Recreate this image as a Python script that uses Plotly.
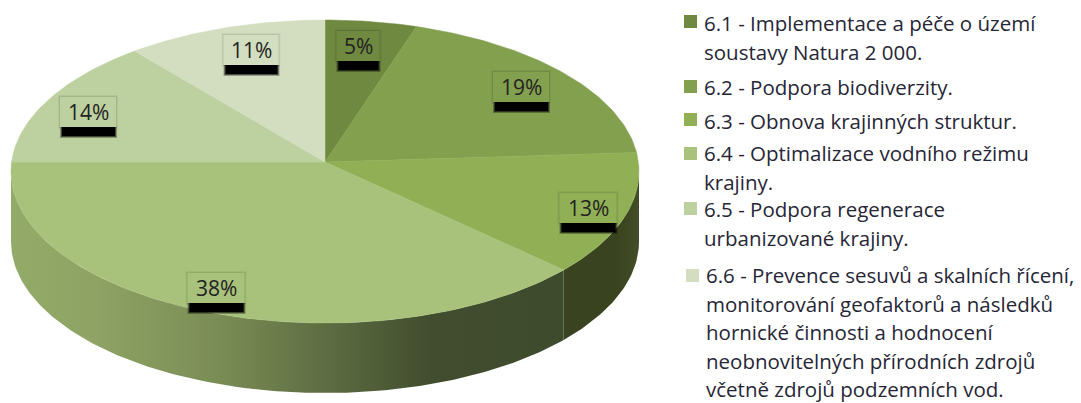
"""
Elliptical 3D-looking pie of programme shares, with boxed percent labels.
The axes run in pixels of the page so the ellipse can be squashed freely.
"""
import math
import plotly.graph_objects as go

categories = [
    "6.1 - Implementace a péče o území<br>soustavy Natura 2 000.",
    "6.2 - Podpora biodiverzity.",
    "6.3 - Obnova krajinných struktur.",
    "6.4 - Optimalizace vodního režimu<br>krajiny.",
    "6.5 - Podpora regenerace<br>urbanizované krajiny.",
    "6.6 - Prevence sesuvů a skalních řícení,<br>monitorování geofaktorů a následků<br>"
    "hornické činnosti a hodnocení<br>neobnovitelných přírodních zdrojů<br>"
    "včetně zdrojů podzemních vod.",
]
shares = [5, 19, 13, 38, 14, 11]
colors = ["#6f8a40", "#83a04e", "#91b056", "#a8c27b", "#bdd0a0", "#d3dec0"]

# layout of the pie, in page pixels
CX, CY = 325, 171.5
RX, RY = 314, 151.5
DEPTH = 70
TILT = 0.0627  # how far the hub sits behind the middle of the ellipse

label_pos = [(358, 46), (521, 87), (588, 208), (216, 288), (88, 112), (251, 50)]
label_w = [43, 56, 57, 57, 56, 55]
legend_pos = [(702, 23), (702, 87), (702, 121), (702, 153), (702, 209), (704, 275)]
swatch_y = [22, 87, 120, 154, 209, 276]
LINE_STEP = 28.5


def rim(deg, drop=0):
    # circle seen in perspective: stays an ellipse, the hub moves back
    a = math.radians(deg)
    d = 1 + TILT * math.cos(a)
    ex = math.sqrt(1 - TILT ** 2) * math.sin(a) / d
    ey = (math.cos(a) + TILT) / d
    return CX + RX * ex, CY - RY * ey + drop


def arc(start, end, drop=0):
    steps = max(2, int(abs(end - start)))
    return [rim(start + (end - start) * i / steps, drop) for i in range(steps + 1)]


def side(start, end):
    top = arc(start, end)
    bottom = arc(end, start, DEPTH)
    pts = top + bottom + top[:1]
    return [p[0] for p in pts], [p[1] for p in pts]


fig = go.Figure()

# angles where each slice starts and ends
edges = [0]
for s in shares:
    edges.append(edges[-1] + s / sum(shares) * 360)

# side walls: only the front part of the rim is visible
extreme = math.degrees(math.acos(-TILT))
xs, ys = side(extreme, edges[3])
fig.add_trace(go.Scatter(
    x=xs, y=ys, mode="lines", line=dict(width=0), fill="toself",
    fillgradient=dict(type="horizontal", colorscale=[[0, "#39431f"], [0.7, "#39431f"], [1, "#434e28"]]),
    hoverinfo="skip"))
xs, ys = side(edges[3], 360 - extreme)
fig.add_trace(go.Scatter(
    x=xs, y=ys, mode="lines", line=dict(width=0), fill="toself",
    fillgradient=dict(type="horizontal", colorscale=[
        [0, "#93ab68"], [0.15, "#8ea364"], [0.38, "#7a8c55"], [0.76, "#414d2e"], [1, "#3f4b2d"]]),
    hoverinfo="skip"))

# top face
hub = rim(0)[0], CY - RY * TILT
for i, color in enumerate(colors):
    pts = [hub] + arc(edges[i], edges[i + 1]) + [hub]
    fig.add_trace(go.Scatter(
        x=[p[0] for p in pts], y=[p[1] for p in pts], mode="lines",
        line=dict(width=0.5, color=color), fill="toself", fillcolor=color,
        name=categories[i], hoverinfo="name"))

# percent labels: blurred black shadow under a box in the slice colour
for (lx, ly), w, color, share in zip(label_pos, label_w, colors, shares):
    x0, x1 = lx - w / 2, lx + w / 2
    y0, y1 = ly - 15, ly + 15
    for pad, fill in [(2, "rgba(0,0,0,0.05)"), (1, "rgba(0,0,0,0.08)")]:
        fig.add_shape(type="rect", x0=x0 - pad, x1=x1 + pad, y0=y0 - pad, y1=y1 + pad,
                      fillcolor=fill, line_width=0, layer="above")
    for pad, fill in [(2, "rgba(0,0,0,0.3)"), (1, "rgba(0,0,0,0.5)"), (0, "black")]:
        fig.add_shape(type="rect", x0=x0 + 2 - pad, x1=x1 - 1 + pad, y0=y1, y1=y1 + 9 + pad,
                      fillcolor=fill, line_width=0, layer="above")
    fig.add_shape(type="rect", x0=x0, x1=x1, y0=y0, y1=y1,
                  fillcolor=color, line_width=0, layer="above")
    fig.add_annotation(x=lx, y=ly, text=f"{share}%", showarrow=False, xref="x", yref="y",
                       font=dict(family="Open Sans", size=21, color="#222222"))

# legend
for (lx, ly), sy, color, text in zip(legend_pos, swatch_y, colors, categories):
    fig.add_shape(type="rect", x0=lx - 18, x1=lx - 5, y0=sy - 7, y1=sy + 6,
                  fillcolor=color, line_width=0)
    for n, line in enumerate(text.split("<br>")):
        fig.add_annotation(x=lx, y=ly + n * LINE_STEP, text=line, showarrow=False,
                           xref="x", yref="y", xanchor="left", yanchor="middle",
                           font=dict(family="Open Sans", size=20.5, color="#262636"))

fig.update_layout(
    width=1081, height=403, margin=dict(l=0, r=0, t=0, b=0),
    paper_bgcolor="white", plot_bgcolor="white", showlegend=False,
    xaxis=dict(range=[0, 1081], visible=False, fixedrange=True),
    yaxis=dict(range=[403, 0], visible=False, fixedrange=True),
)

fig.write_html("out.html", config=dict(displayModeBar=False),
               post_script="document.body.style.margin='0';")
